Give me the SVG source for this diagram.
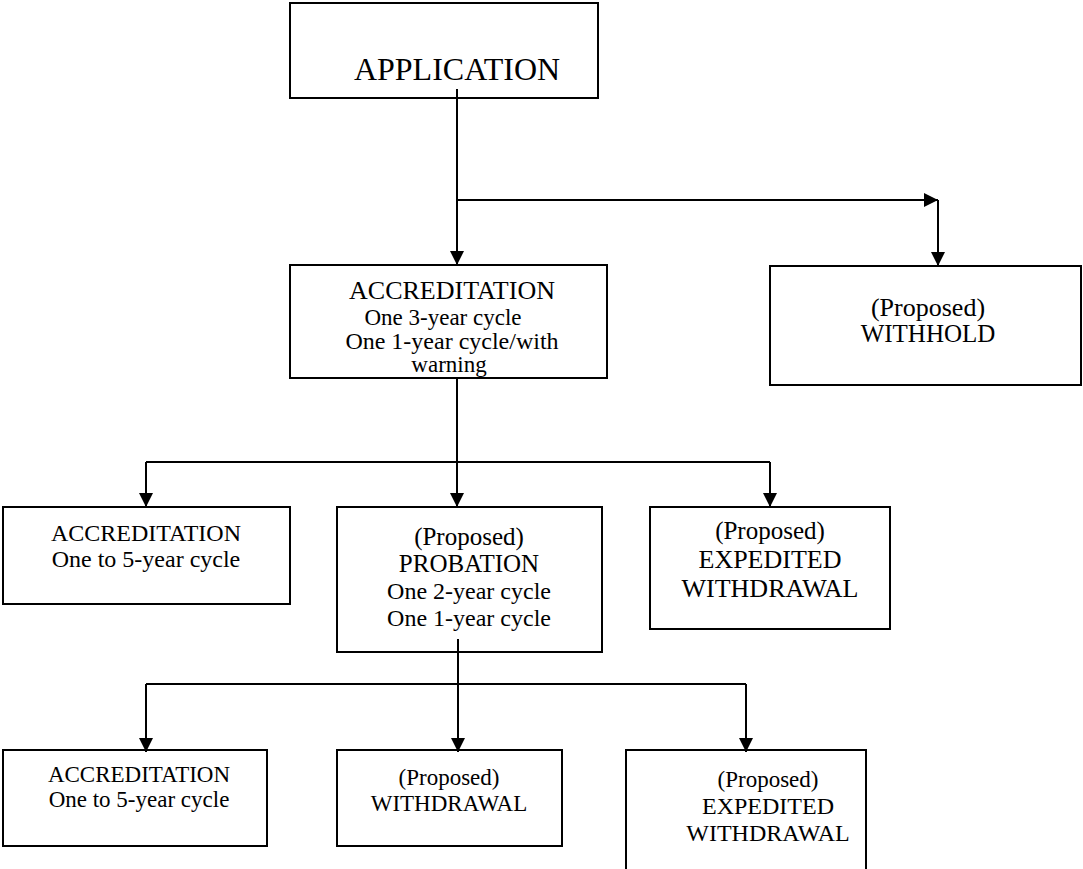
<svg xmlns="http://www.w3.org/2000/svg" width="1083" height="869" viewBox="0 0 1083 869">
<style>
.box{fill:#fff;stroke:#000;stroke-width:2}
.t{font-family:"Liberation Serif","Times New Roman",serif;font-size:24px;fill:#000;text-anchor:middle}
.s23{font-size:23px}
.s25{font-size:25px}
.s26{font-size:26px}
.c{fill:none;stroke:#000;stroke-width:2}
</style>
<defs>
<marker id="ah" markerWidth="14" markerHeight="14" viewBox="0 0 14 14" refX="14" refY="7" orient="auto" markerUnits="userSpaceOnUse">
<path d="M0,0 L14,7 L0,14 Z" fill="#000"/>
</marker>
</defs>
<rect width="1083" height="869" fill="#fff"/>
<g id="n-application">
<rect class="box" x="290" y="3" width="308" height="95"/>
<text class="t" x="457" y="80" style="font-size:32px">APPLICATION</text>
</g>
<g id="n-accreditation-main">
<rect class="box" x="290" y="265" width="317" height="113"/>
<text class="t s26" x="452" y="299">ACCREDITATION</text>
<text class="t s23" x="443" y="325">One 3-year cycle</text>
<text class="t" x="452" y="349">One 1-year cycle/with</text>
<text class="t s23" x="449" y="372">warning</text>
</g>
<g id="n-withhold">
<rect class="box" x="770" y="266" width="311" height="119"/>
<text class="t s26" x="928" y="316">(Proposed)</text>
<text class="t s25" x="928" y="342">WITHHOLD</text>
</g>
<g id="n-accreditation-2">
<rect class="box" x="3" y="507" width="287" height="97"/>
<text class="t" x="146" y="541">ACCREDITATION</text>
<text class="t" x="146" y="567">One to 5-year cycle</text>
</g>
<g id="n-probation">
<rect class="box" x="337" y="507" width="265" height="145"/>
<text class="t s25" x="469" y="545">(Proposed)</text>
<text class="t s25" x="469" y="572">PROBATION</text>
<text class="t" x="469" y="599">One 2-year cycle</text>
<text class="t" x="469" y="626">One 1-year cycle</text>
</g>
<g id="n-expedited-2">
<rect class="box" x="650" y="507" width="240" height="122"/>
<text class="t s25" x="770" y="539">(Proposed)</text>
<text class="t s26" x="770" y="568">EXPEDITED</text>
<text class="t s26" x="770" y="597">WITHDRAWAL</text>
</g>
<g id="n-accreditation-3">
<rect class="box" x="3" y="750" width="264" height="96"/>
<text class="t s23" x="139" y="782">ACCREDITATION</text>
<text class="t s23" x="139" y="807">One to 5-year cycle</text>
</g>
<g id="n-withdrawal">
<rect class="box" x="337" y="750" width="225" height="96"/>
<text class="t s23" x="449" y="785">(Proposed)</text>
<text class="t s23" x="449" y="811">WITHDRAWAL</text>
</g>
<g id="n-expedited-3">
<rect class="box" x="626" y="750" width="240" height="125"/>
<text class="t s23" x="768" y="787">(Proposed)</text>
<text class="t" x="768" y="814">EXPEDITED</text>
<text class="t" x="768" y="841">WITHDRAWAL</text>
</g>
<g id="connectors">
<path class="c" d="M457,89 V265" marker-end="url(#ah)"/>
<path class="c" d="M457,200 H938" marker-end="url(#ah)"/>
<path class="c" d="M938,200 V266" marker-end="url(#ah)"/>
<path class="c" d="M457,378 V507" marker-end="url(#ah)"/>
<path class="c" d="M146,462 H770"/>
<path class="c" d="M146,462 V507" marker-end="url(#ah)"/>
<path class="c" d="M770,462 V507" marker-end="url(#ah)"/>
<path class="c" d="M458,639 V752" marker-end="url(#ah)"/>
<path class="c" d="M146,684 H746"/>
<path class="c" d="M146,684 V752" marker-end="url(#ah)"/>
<path class="c" d="M746,684 V752" marker-end="url(#ah)"/>
</g>
</svg>
